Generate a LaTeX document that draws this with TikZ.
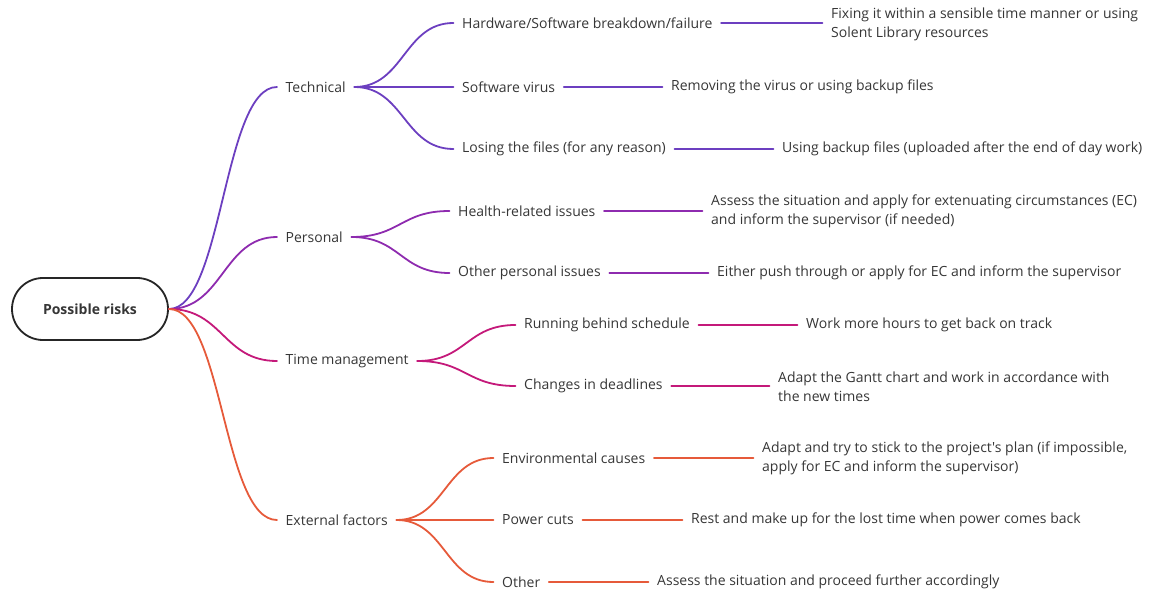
\documentclass[tikz,border=0pt]{standalone}
\usepackage{fontspec}
\setmainfont{Open Sans}[Ligatures=TeXOff]
\usetikzlibrary{calc}
\definecolor{txt}{HTML}{363636}
\definecolor{ctech}{HTML}{6C3FC0}
\definecolor{cpers}{HTML}{8E2BAF}
\definecolor{ctime}{HTML}{C4197A}
\definecolor{cext}{HTML}{E65A3A}
\newcommand\branchcurve[3]{%
  \draw[link,#3] let \p1=(#1), \p2=(#2) in
    (\p1) .. controls ({(\x1+\x2)/2},\y1) and ({(\x1+\x2)/2},\y2) .. (\p2);}
\begin{document}
\begin{tikzpicture}[x=1pt,y=-1pt,
  every node/.style={text=txt,font=\fontsize{14}{19}\selectfont},
  item/.style={anchor=west,inner xsep=8.5pt,inner ysep=2pt},
  resp/.style={anchor=west,inner xsep=8.5pt,inner ysep=2pt,align=left},
  rootbox/.style={draw=black!85,line width=1.8pt,rounded corners=31pt,
    minimum width=156pt,minimum height=62pt,font=\fontsize{14}{19}\selectfont\bfseries},
  link/.style={line width=1.8pt,line cap=round}]
\useasboundingbox (0,0) rectangle (1150,593);

% central topic
\node[rootbox] (root) at (90,309) {Possible risks};

% main branches
\node[item] (tech) at (277,87) {Technical};
\node[item] (pers) at (277,237) {Personal};
\node[item] (time) at (277,361) {Time management};
\node[item] (ext)  at (277,520) {External factors};

% technical risks
\node[item] (t1) at (453.5,23)  {Hardware/Software breakdown/failure};
\node[item] (t2) at (453.5,87)  {Software virus};
\node[item] (t3) at (453.5,149) {Losing the files (for any reason)};
\node[resp] (r1) at (822.5,24)  {Fixing it within a sensible time manner or using\\Solent Library resources};
\node[resp] (r2) at (662.5,87)  {Removing the virus or using backup files};
\node[resp] (r3) at (773.5,149) {Using backup files (uploaded after the end of day work)};

% personal risks
\node[item] (p1) at (449.5,211) {Health-related issues};
\node[item] (p2) at (449.5,273) {Other personal issues};
\node[resp] (pr1) at (702.5,211.5) {Assess the situation and apply for extenuating circumstances (EC)\\and inform the supervisor (if needed)};
\node[resp] (pr2) at (708.5,273) {Either push through or apply for EC and inform the supervisor};

% time management risks
\node[item] (m1) at (515.5,325) {Running behind schedule};
\node[item] (m2) at (515.5,386) {Changes in deadlines};
\node[resp] (mr1) at (797.5,325) {Work more hours to get back on track};
\node[resp] (mr2) at (769.5,386.5) {Adapt the Gantt chart and work in accordance with\\the new times};

% external risks
\node[item] (e1) at (493.5,458) {Environmental causes};
\node[item] (e2) at (493.5,520) {Power cuts};
\node[item] (e3) at (493.5,582) {Other};
\node[resp] (er1) at (753.5,458.5) {Adapt and try to stick to the project's plan (if impossible,\\apply for EC and inform the supervisor)};
\node[resp] (er2) at (682.5,520) {Rest and make up for the lost time when power comes back};
\node[resp] (er3) at (648.5,582) {Assess the situation and proceed further accordingly};

% curves from the central topic
\branchcurve{root.east}{tech.west}{ctech}
\branchcurve{root.east}{pers.west}{cpers}
\branchcurve{root.east}{time.west}{ctime}
\branchcurve{root.east}{ext.west}{cext}

% curves to the sub-topics
\branchcurve{tech.east}{t1.west}{ctech}
\draw[link,ctech] (tech.east) -- (t2.west);
\branchcurve{tech.east}{t3.west}{ctech}
\branchcurve{pers.east}{p1.west}{cpers}
\branchcurve{pers.east}{p2.west}{cpers}
\branchcurve{time.east}{m1.west}{ctime}
\branchcurve{time.east}{m2.west}{ctime}
\branchcurve{ext.east}{e1.west}{cext}
\draw[link,cext] (ext.east) -- (e2.west);
\branchcurve{ext.east}{e3.west}{cext}

% straight links to the responses
\draw[link,ctech] (t1.east) -- (t1.east -| r1.west);
\draw[link,ctech] (t2.east) -- (t2.east -| r2.west);
\draw[link,ctech] (t3.east) -- (t3.east -| r3.west);
\draw[link,cpers] (p1.east) -- (p1.east -| pr1.west);
\draw[link,cpers] (p2.east) -- (p2.east -| pr2.west);
\draw[link,ctime] (m1.east) -- (m1.east -| mr1.west);
\draw[link,ctime] (m2.east) -- (m2.east -| mr2.west);
\draw[link,cext] (e1.east) -- (e1.east -| er1.west);
\draw[link,cext] (e2.east) -- (e2.east -| er2.west);
\draw[link,cext] (e3.east) -- (e3.east -| er3.west);
\end{tikzpicture}
\end{document}
